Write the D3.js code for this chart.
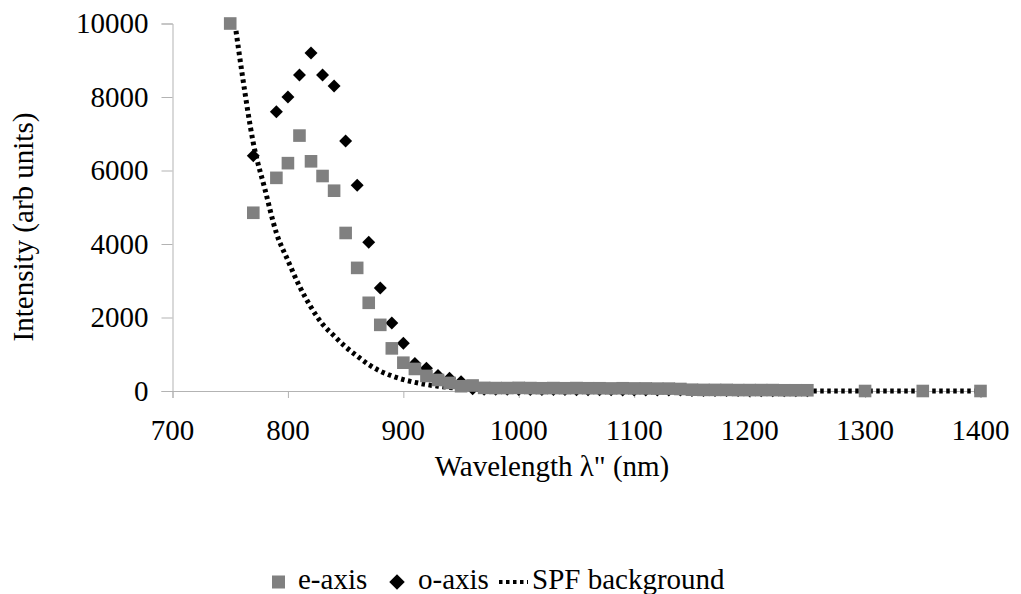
<!DOCTYPE html>
<html>
<head>
<meta charset="utf-8">
<script src="https://cdn.jsdelivr.net/npm/d3@7"></script>
<style>
  body { margin: 0; background: #fff; }
  #wrap { position: relative; width: 1021px; height: 594px; overflow: hidden; }
  #wrap svg { position: absolute; left: 0; top: 0; }
  .lbl {
    position: absolute;
    font-family: "Liberation Serif", "Tinos", "DejaVu Serif", serif;
    font-size: 29px;
    line-height: 29px;
    height: 29px;
    color: #000;
    white-space: nowrap;
  }
</style>
</head>
<body>
<div id="wrap"></div>
<script>
// data
var eWavelength = [750, 770, 790, 800, 810, 820, 830, 840, 850, 860, 870, 880, 890, 900, 910, 920, 930, 940, 950, 960,
  970, 980, 990, 1000, 1010, 1020, 1030, 1040, 1050, 1060, 1070, 1080, 1090, 1100, 1110, 1120, 1130, 1140,
  1150, 1160, 1170, 1180, 1190, 1200, 1210, 1220, 1230, 1240, 1250, 1300, 1350, 1400];
var eIntensity = [10000, 4850, 5800, 6200, 6950, 6250, 5850, 5450, 4300, 3350, 2400, 1800, 1160, 770, 600, 410, 300, 220, 130, 150,
  85, 80, 80, 85, 80, 75, 80, 75, 80, 75, 75, 70, 75, 70, 70, 65, 65, 55,
  35, 30, 30, 30, 25, 25, 25, 25, 20, 20, 20, 0, 0, 0];

var oWavelength = [770, 790, 800, 810, 820, 830, 840, 850, 860, 870, 880, 890, 900, 910, 920, 930, 940, 950,
  960, 970, 980, 990, 1000, 1010, 1020, 1030, 1040, 1050, 1060, 1070, 1080, 1090, 1100,
  1110, 1120, 1130, 1140, 1150, 1160, 1170, 1180, 1190, 1200, 1210, 1220, 1230, 1240, 1250];
var oIntensity = [6400, 7600, 8000, 8600, 9200, 8600, 8300, 6800, 5600, 4050, 2800, 1850, 1300, 750, 620, 420, 350, 250,
  60, 50, 45, 45, 40, 40, 40, 40, 40, 35, 35, 35, 35, 30, 30,
  30, 30, 25, 25, 15, 10, 10, 10, 10, 5, 5, 5, 5, 5, 5];

var spfWavelength = [755, 760, 770, 780, 790, 800, 810, 820, 830, 840, 850, 860, 870, 880, 890, 900, 910, 920, 930, 940, 950, 970, 1000, 1050, 1100, 1200, 1300, 1400];
var spfIntensity = [9800, 8700, 6750, 5500, 4300, 3550, 2850, 2280, 1820, 1500, 1200, 950, 720, 540, 410, 310, 235, 175, 130, 95, 70, 40, 18, 6, 2, 0, 0, 0];

var xTicks = [700, 800, 900, 1000, 1100, 1200, 1300, 1400];
var yTicks = [0, 2000, 4000, 6000, 8000, 10000];

var seriesNames = ["e-axis", "o-axis", "SPF background"];

var svgWidth = 1021;
var svgHeight = 594;
var margin = { top: 23.5, left: 172.5 };
var width = 808;
var height = 367.5;

var axisColor = "#b3b3b3";
var baseOff = 24.3; // baseline offset inside a 29px line box

var wrap = d3.select("#wrap");

var svg = wrap.append("svg")
  .attr("width", svgWidth)
  .attr("height", svgHeight);

var chartGroup = svg.append("g")
  .attr("transform", `translate(${margin.left}, ${margin.top})`);

var xScale = d3.scaleLinear().domain([700, 1400]).range([0, width]);
var yScale = d3.scaleLinear().domain([0, 10000]).range([height, 0]);

// html labels placed by baseline
function label(txt, x, baseline, align) {
  var w = 400;
  var left = align === "middle" ? x - w / 2 : (align === "end" ? x - w : x);
  return wrap.append("div")
    .attr("class", "lbl")
    .style("left", left + "px")
    .style("top", (baseline - baseOff) + "px")
    .style("width", w + "px")
    .style("text-align", align === "middle" ? "center" : (align === "end" ? "right" : "left"))
    .text(txt);
}

// axis lines and ticks
var bottomAxis = d3.axisBottom(xScale).tickValues(xTicks).tickFormat("").tickSize(7);
var leftAxis = d3.axisLeft(yScale).tickValues(yTicks).tickFormat("").tickSize(11);

var xAxisG = chartGroup.append("g")
  .attr("transform", `translate(0, ${height})`)
  .call(bottomAxis);
var yAxisG = chartGroup.append("g").call(leftAxis);

[xAxisG, yAxisG].forEach(function(g) {
  g.select(".domain").attr("stroke", axisColor);
  g.selectAll(".tick line").attr("stroke", axisColor);
  g.selectAll(".tick text").remove();
});

xTicks.forEach(function(t) {
  label(t, margin.left + xScale(t), margin.top + height + 49, "middle");
});
yTicks.forEach(function(t) {
  label(t, margin.left - 24, margin.top + yScale(t) + 10, "end");
});

// o-axis diamonds
var diamond = d3.symbol().type(d3.symbolSquare).size(84);
var oData = oWavelength.map((w, i) => ({ x: w, y: oIntensity[i] }));
chartGroup.selectAll(".odot")
  .data(oData)
  .enter()
  .append("path")
  .attr("class", "odot")
  .attr("d", diamond)
  .attr("transform", d => `translate(${xScale(d.x)}, ${yScale(d.y)}) rotate(45)`)
  .attr("fill", "#000");

// SPF background dotted line
var spfData = spfWavelength.map((w, i) => ({ x: w, y: spfIntensity[i] }));
var line = d3.line()
  .x(d => xScale(d.x))
  .y(d => yScale(d.y))
  .curve(d3.curveMonotoneX);
chartGroup.append("path")
  .datum(spfData)
  .attr("d", line)
  .attr("fill", "none")
  .attr("stroke", "#000")
  .attr("stroke-width", 5)
  .attr("stroke-dasharray", "3.5,3.5");

// e-axis squares
var sq = 12.6;
var eData = eWavelength.map((w, i) => ({ x: w, y: eIntensity[i] }));
chartGroup.selectAll(".edot")
  .data(eData)
  .enter()
  .append("rect")
  .attr("class", "edot")
  .attr("x", d => xScale(d.x) - sq / 2)
  .attr("y", d => yScale(d.y) - sq / 2)
  .attr("width", sq)
  .attr("height", sq)
  .attr("fill", "#808080");

// axis titles
wrap.append("div")
  .attr("class", "lbl")
  .style("left", "0px")
  .style("top", "0px")
  .style("width", "300px")
  .style("text-align", "center")
  .style("transform-origin", "0 0")
  .style("transform", `translate(33px, 227px) rotate(-90deg) translate(-150px, -${baseOff}px)`)
  .text("Intensity (arb units)");

label("Wavelength λ\" (nm)", 552, 476, "middle");

// legend
var legendY = 582;
var legendBase = 589;
svg.append("rect")
  .attr("x", 272).attr("y", legendY - 6.5)
  .attr("width", 13).attr("height", 13)
  .attr("fill", "#808080");
label(seriesNames[0], 298, legendBase, "start");

svg.append("path")
  .attr("d", d3.symbol().type(d3.symbolSquare).size(120))
  .attr("transform", `translate(397, ${legendY}) rotate(45)`)
  .attr("fill", "#000");
label(seriesNames[1], 418, legendBase, "start");

svg.append("line")
  .attr("x1", 499).attr("x2", 528)
  .attr("y1", legendY).attr("y2", legendY)
  .attr("stroke", "#000")
  .attr("stroke-width", 4)
  .attr("stroke-dasharray", "3.5,3.5");
label(seriesNames[2], 532, legendBase, "start");
</script>
</body>
</html>
